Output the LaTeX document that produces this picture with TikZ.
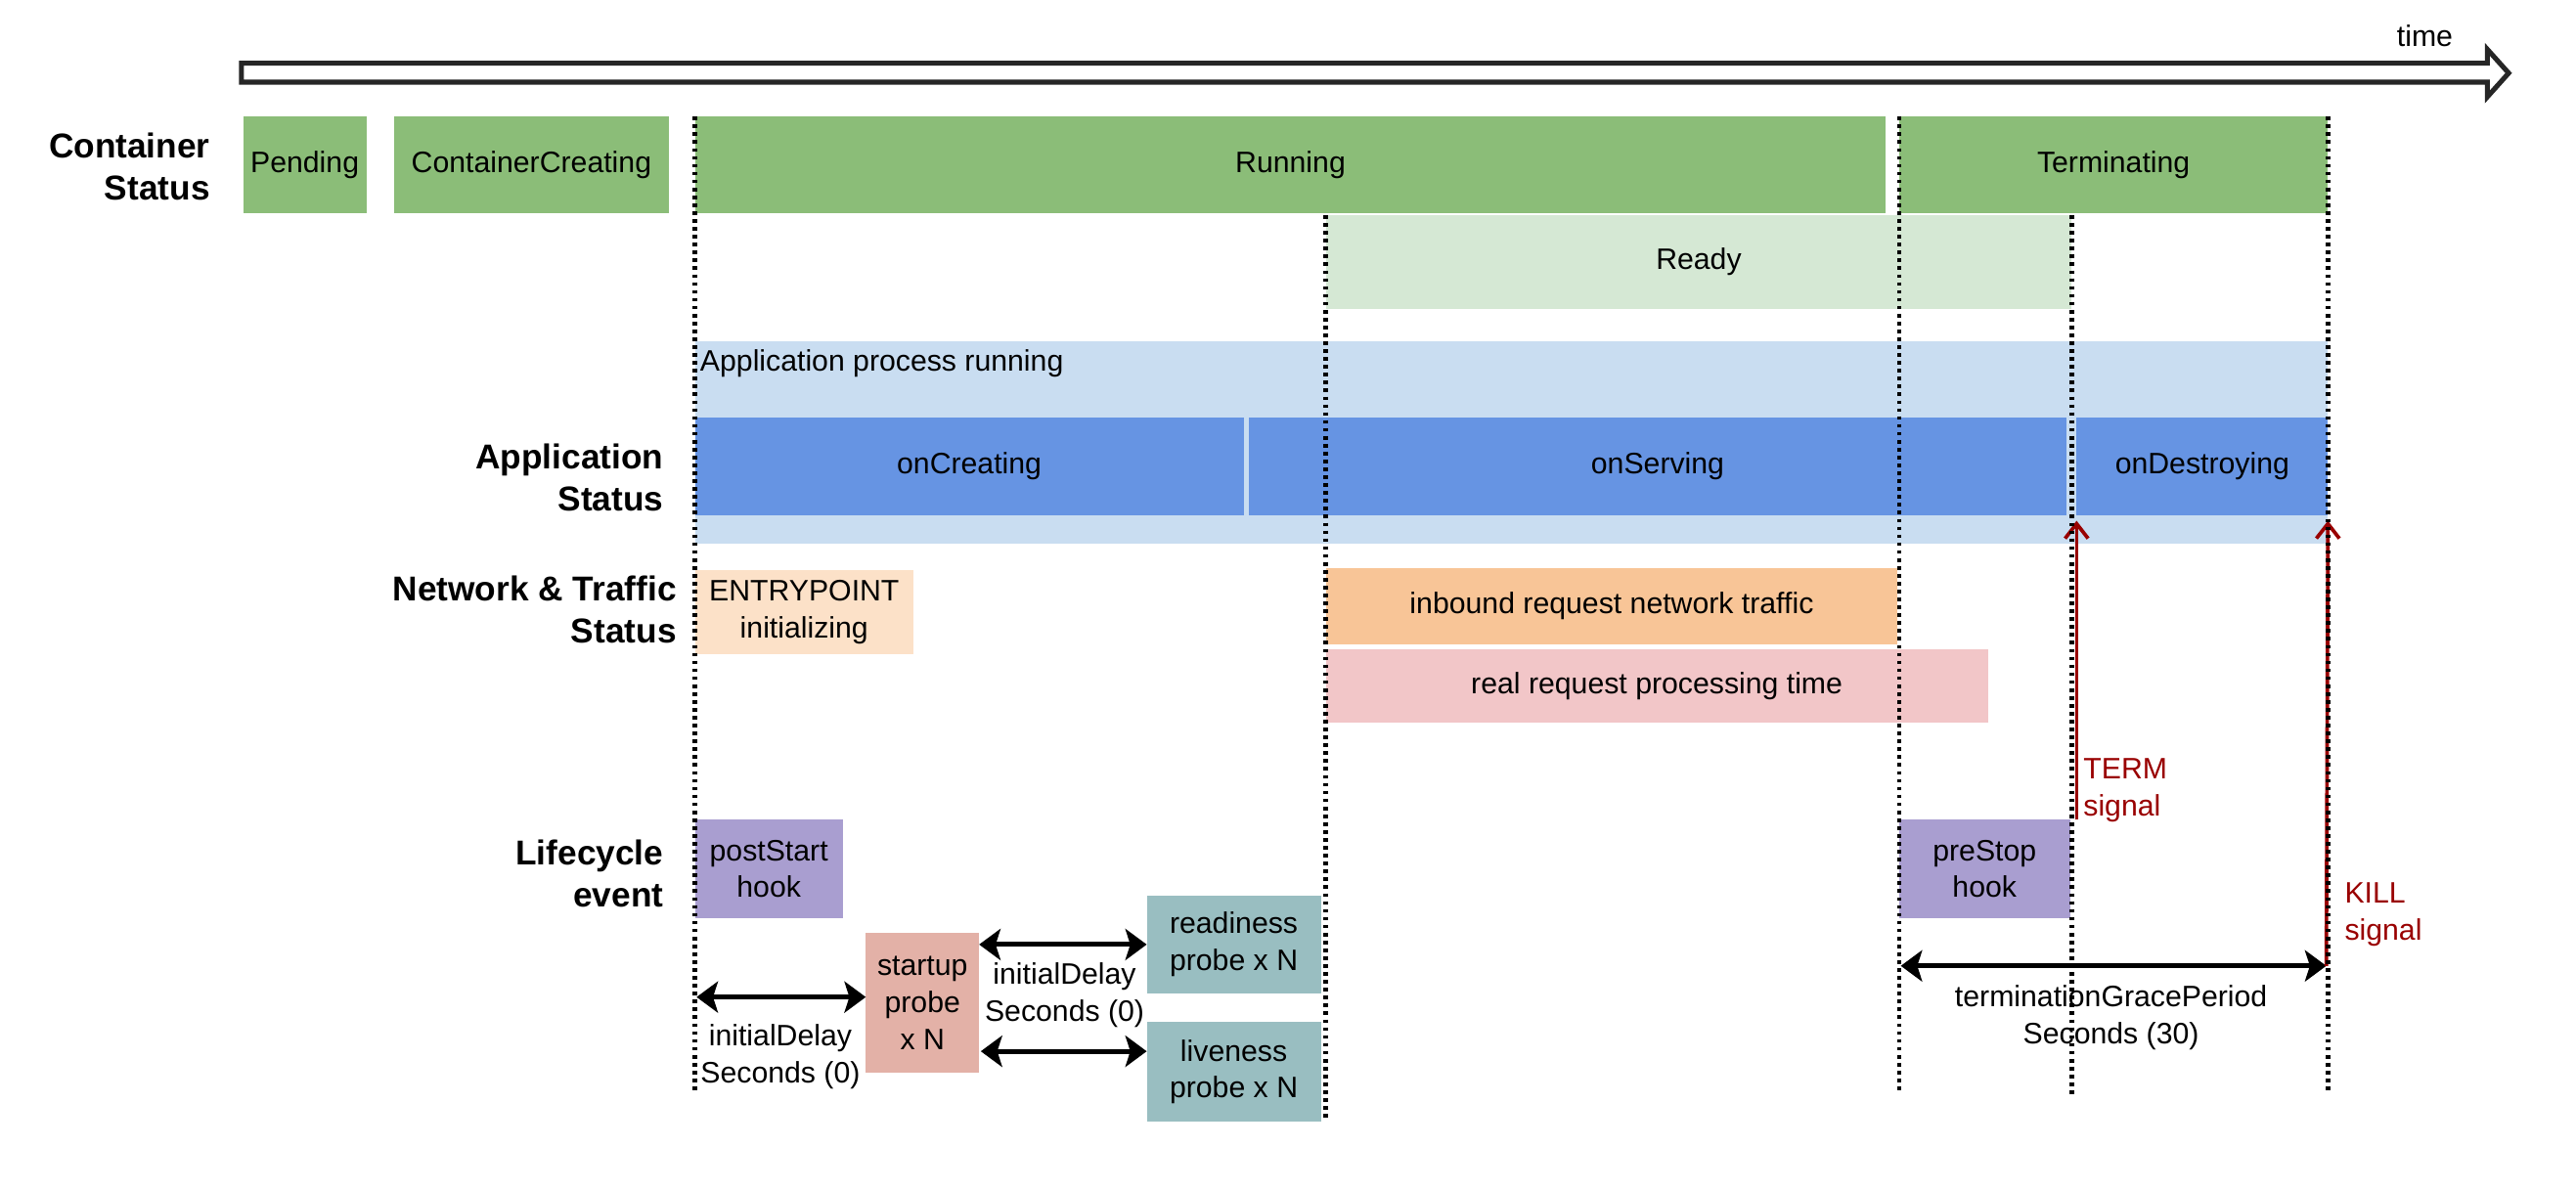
\documentclass[tikz,border=0pt]{standalone}
\usepackage{fontspec}
\setmainfont{Liberation Sans}
\usetikzlibrary{arrows.meta}
\definecolor{gdark}{HTML}{8BBD78}
\definecolor{glight}{HTML}{D5E8D4}
\definecolor{blight}{HTML}{C9DDF1}
\definecolor{bdark}{HTML}{6694E3}
\definecolor{olight}{HTML}{FCE1C8}
\definecolor{odark}{HTML}{F8C597}
\definecolor{pinkc}{HTML}{F2C6C8}
\definecolor{purplec}{HTML}{A99ED0}
\definecolor{startc}{HTML}{E3B1A7}
\definecolor{tealc}{HTML}{99BEC1}
\definecolor{sigred}{HTML}{990000}
\newcommand\bx[7]{\node[bx,#6,minimum width={(#4-#2)*1pt},minimum height={(#5-#3)*1pt}] (#1) at ({(#2+#4)/2},{(#3+#5)/2}) {#7};}
\begin{document}
\begin{tikzpicture}[x=1pt,y=-1pt,
  bx/.style={inner sep=0pt, outer sep=0pt, align=center, font=\fontsize{18}{22.5}\selectfont},
  txt/.style={inner sep=0pt, align=center, font=\fontsize{18}{22.5}\selectfont},
  lbl/.style={inner sep=0pt, align=right, anchor=east, font=\fontsize{21}{25.5}\selectfont\bfseries},
  dotline/.style={line width=2.6pt, dash pattern=on 2.2pt off 2.6pt},
  dimarrow/.style={line width=3pt, {Stealth[length=13pt,width=19pt,inset=3pt]}-{Stealth[length=13pt,width=19pt,inset=3pt]}},
  sig/.style={draw=sigred, line width=2.2pt, -{Straight Barb[length=9pt,width=14pt,line width=2.2pt]}},
  ]
\useasboundingbox (0,0) rectangle (1568,725);
% time arrow
\draw[line width=3pt, draw=black!85, fill=white, line join=miter]
  (147,38.5) -- (1514,38.5) -- (1514,30) -- (1527,44.5) -- (1514,59) -- (1514,50) -- (147,50) -- cycle;
\node[txt] (timelbl) at (1476,22) {time};
% row labels
\node[lbl] (lcs) at (128,101.5) {Container\\Status};
\node[lbl] (las) at (404,290.5) {Application\\Status};
\node[lbl] (lnt) at (412,371) {Network \& Traffic\\Status};
\node[lbl] (lle) at (404,532) {Lifecycle\\event};
% container status
\bx{pending}{148}{71}{223}{130}{fill=gdark}{Pending}
\bx{creating}{240}{71}{407}{130}{fill=gdark}{ContainerCreating}
\bx{running}{423}{71}{1148}{130}{fill=gdark}{Running}
\bx{terminating}{1156}{71}{1417}{130}{fill=gdark}{Terminating}
\bx{ready}{807}{131}{1261}{188}{fill=glight}{Ready}
% application status
\bx{appproc}{423}{208}{1417}{331}{fill=blight}{}
\node[txt, anchor=west] (apptext) at (426,221) {Application process running};
\bx{oncreating}{423}{254}{757}{314}{fill=bdark}{onCreating}
\bx{onserving}{760}{254}{1258}{314}{fill=bdark}{onServing}
\bx{ondestroying}{1264}{254}{1417}{314}{fill=bdark}{onDestroying}
% network
\bx{entry}{423}{347}{556}{398}{fill=olight}{ENTRYPOINT\\initializing}
\bx{inbound}{807}{346}{1155}{392}{fill=odark}{inbound request network traffic}
\bx{realreq}{807}{395}{1210}{440}{fill=pinkc}{real request processing time}
% lifecycle
\bx{poststart}{423}{499}{513}{559}{fill=purplec}{postStart\\hook}
\bx{startup}{527}{568}{596}{653}{fill=startc}{startup\\probe\\x N}
\bx{readiness}{698}{545}{804}{605}{fill=tealc}{readiness\\probe x N}
\bx{liveness}{698}{622}{804}{683}{fill=tealc}{liveness\\probe x N}
\bx{prestop}{1156}{499}{1260}{559}{fill=purplec}{preStop\\hook}
% dimension arrows
\coordinate (a1) at (424,607);
\draw[dimarrow] (a1) -- (a1 -| startup.west);
\node[txt] (idl1) at (475,643.5) {initialDelay\\Seconds (0)};
\draw[dimarrow] (startup.east |- readiness.west) -- (readiness.west);
\coordinate (a3) at (597,640);
\draw[dimarrow] (a3) -- (a3 -| liveness.west);
\node[txt] (idl2) at (648,606) {initialDelay\\Seconds (0)};
\coordinate (gl) at (1157,588);
\coordinate (gr) at (1416,588);
\draw[dimarrow] (gl) -- (gr);
\node[txt] (grace) at (1285,619.5) {terminationGracePeriod\\Seconds (30)};
% signals
\draw[sig] (prestop.north east -| ondestroying.south west) -- ([yshift=-3pt]ondestroying.south west);
\node[txt, anchor=west, align=left, text=sigred] (term) at (1268,481) {TERM\\signal};
\draw[sig] (gr) -- ([yshift=-3pt]ondestroying.south east);
\node[txt, anchor=west, align=left, text=sigred] (kill) at (1427,556.5) {KILL\\signal};
% dotted time markers
\coordinate (bot) at (0,666);
\coordinate (botb) at (0,681);
\draw[dotline] (running.north west) -- (running.north west |- bot);
\draw[dotline] (ready.north west) -- (ready.north west |- botb);
\draw[dotline] (terminating.north west) -- (terminating.north west |- bot);
\draw[dotline] (ready.north east) -- (ready.north east |- bot);
\draw[dotline] (terminating.north east) -- (terminating.north east |- bot);
\end{tikzpicture}
\end{document}
